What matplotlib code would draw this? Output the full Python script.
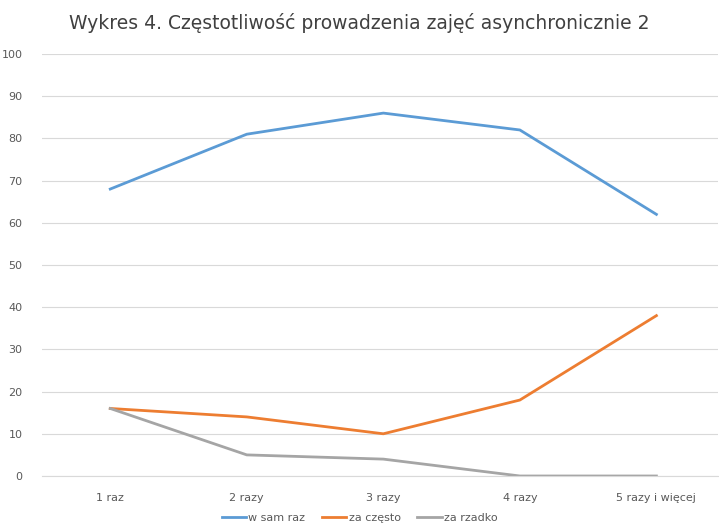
import matplotlib.pyplot as plt

CATEGORIES = ["1 raz", "2 razy", "3 razy", "4 razy", "5 razy i więcej"]
W_SAM_RAZ = [68, 81, 86, 82, 62]
ZA_CZESTO = [16, 14, 10, 18, 38]
ZA_RZADKO = [16, 5, 4, 0, 0]

plt.rcParams["font.family"] = ["DejaVu Sans"]

fig = plt.figure(figsize=(7.19, 5.28), dpi=100)
ax = fig.add_axes([0.0584, 0.0985, 0.94, 0.7992])

x = range(len(CATEGORIES))
ax.plot(x, W_SAM_RAZ, color="#5B9BD5", lw=2.0, label="w sam raz")
ax.plot(x, ZA_CZESTO, color="#ED7D31", lw=2.0, label="za często")
ax.plot(x, ZA_RZADKO, color="#A5A5A5", lw=2.0, label="za rzadko")

ax.set_ylim(0, 100)
ax.set_yticks(range(0, 101, 10))
ax.set_xlim(-0.5, 4.45)
ax.set_xticks(list(x))
ax.set_xticklabels(CATEGORIES)
ax.grid(axis="y", color="#D9D9D9", lw=0.8)
ax.set_axisbelow(True)
for s in ["top", "right", "left"]:
    ax.spines[s].set_visible(False)
ax.spines["bottom"].set_color("#D9D9D9")
ax.tick_params(length=0, colors="#595959", labelsize=8)
ax.tick_params(axis="x", pad=12)
ax.tick_params(axis="y", pad=14)

fig.suptitle("Wykres 4. Częstotliwość prowadzenia zajęć asynchronicznie 2",
             y=0.975, fontsize=13.5, color="#404040")
fig.legend(loc="lower center", bbox_to_anchor=(0.5, -0.01), ncol=3,
           frameon=False, fontsize=8, handlelength=2.2, handletextpad=0.2,
           columnspacing=1.5, labelcolor="#595959")

fig.savefig("out.png", dpi=100)
